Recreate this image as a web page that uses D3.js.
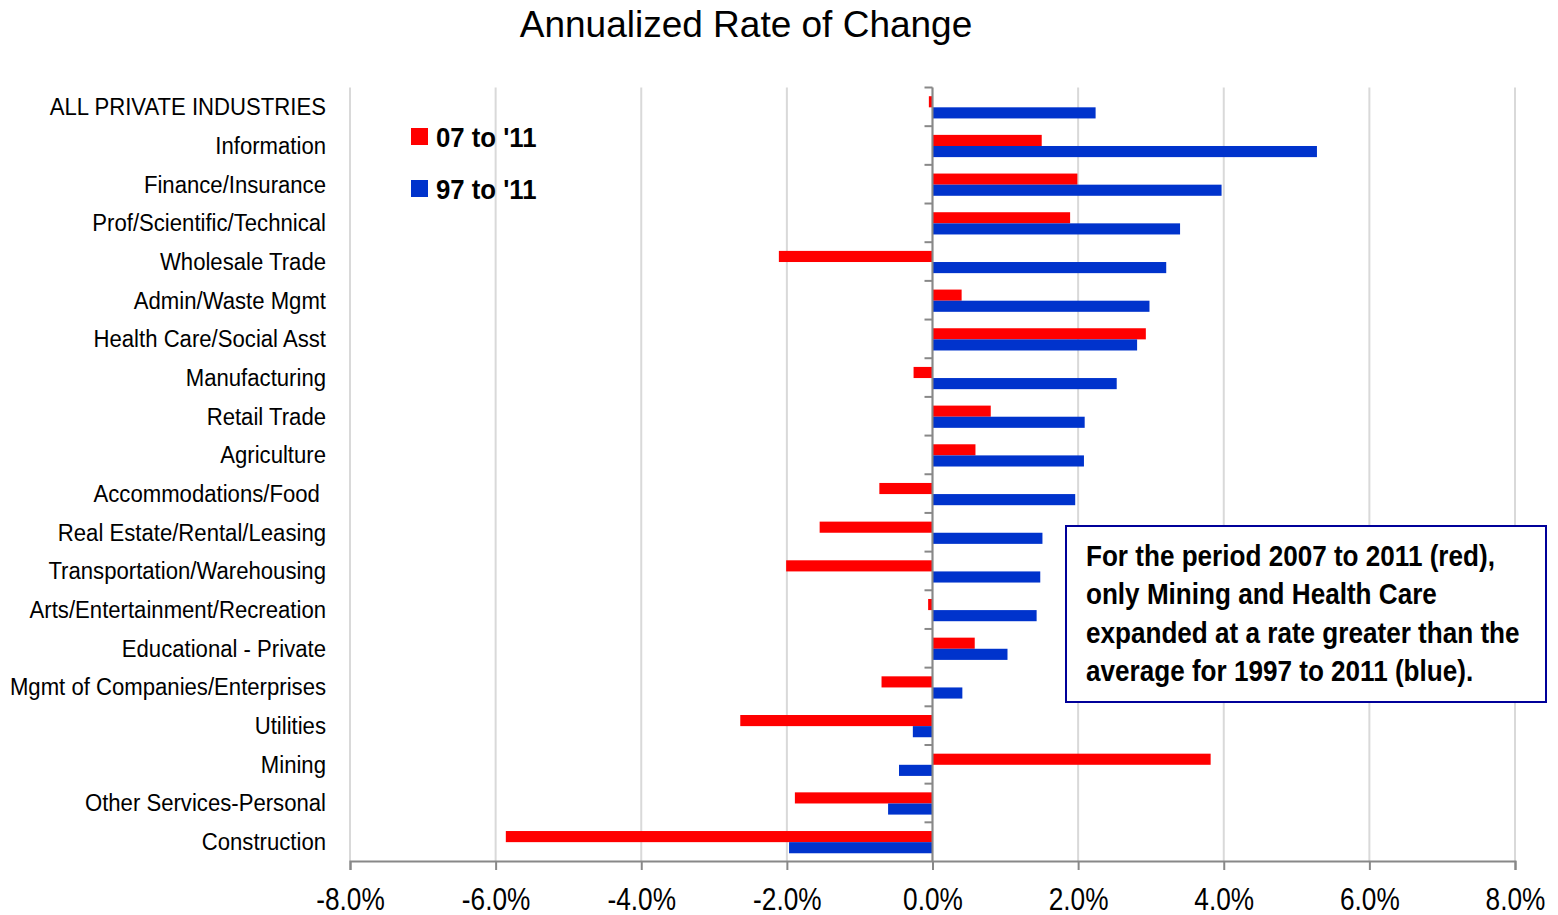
<!DOCTYPE html>
<html>
<head>
<meta charset="utf-8">
<script src="https://cdn.jsdelivr.net/npm/d3@7"></script>
<style>
  body { margin: 0; background: #fff; }
  svg text { font-family: "Liberation Sans", Arial, sans-serif; }
</style>
</head>
<body>
<script>
let svgWidth = 1558;
let svgHeight = 915;

let categories = [
    "ALL PRIVATE INDUSTRIES", "Information", "Finance/Insurance",
    "Prof/Scientific/Technical", "Wholesale Trade", "Admin/Waste Mgmt",
    "Health Care/Social Asst", "Manufacturing", "Retail Trade", "Agriculture",
    "Accommodations/Food ", "Real Estate/Rental/Leasing",
    "Transportation/Warehousing", "Arts/Entertainment/Recreation",
    "Educational - Private", "Mgmt of Companies/Enterprises", "Utilities",
    "Mining", "Other Services-Personal", "Construction"
];

// 2007 to 2011 (red)
let rate0711 = [-0.05, 1.50, 1.99, 1.89, -2.11, 0.40, 2.93, -0.26, 0.80, 0.59,
    -0.73, -1.55, -2.01, -0.06, 0.58, -0.70, -2.64, 3.82, -1.89, -5.86];
// 1997 to 2011 (blue)
let rate9711 = [2.24, 5.28, 3.97, 3.40, 3.21, 2.98, 2.81, 2.53, 2.09, 2.08,
    1.96, 1.51, 1.48, 1.43, 1.03, 0.41, -0.27, -0.46, -0.61, -1.97];

let seriesNames = ["07 to '11", "97 to '11"];
let seriesColors = ["#ff0000", "#0033cc"];
let xTicks = [-8, -6, -4, -2, 0, 2, 4, 6, 8];

let noteLines = [
    "For the period 2007 to 2011 (red),",
    "only Mining and Health Care",
    "expanded at a rate greater than the",
    "average for 1997 to 2011 (blue)."
];

let margin = { top: 87.5, right: 43, bottom: 54, left: 350 };
let chartWidth = svgWidth - margin.left - margin.right;
let chartHeight = svgHeight - margin.top - margin.bottom;

let svg = d3.select("body")
    .append("svg")
    .attr("width", svgWidth)
    .attr("height", svgHeight);

// title
svg.append("text")
    .attr("x", 746)
    .attr("y", 37)
    .attr("text-anchor", "middle")
    .style("font-size", "37px")
    .text("Annualized Rate of Change");

let chartGroup = svg.append("g")
    .attr("transform", `translate(${margin.left}, ${margin.top})`);

let xScale = d3.scaleLinear()
    .domain([-8, 8])
    .range([0, chartWidth]);

let yScale = d3.scaleBand()
    .domain(categories)
    .range([0, chartHeight])
    .padding(0);

let subScale = d3.scaleBand()
    .domain([0, 1])
    .range([yScale.bandwidth() * 0.225, yScale.bandwidth() * 0.8]);

// gridlines
chartGroup.append("g")
    .selectAll("line")
    .data(xTicks)
    .join("line")
    .attr("x1", d => xScale(d))
    .attr("x2", d => xScale(d))
    .attr("y1", 0)
    .attr("y2", chartHeight)
    .attr("stroke", "#d9d9d9")
    .attr("stroke-width", 2);

// bars
let rows = categories.map((c, i) => ({ cat: c, vals: [rate0711[i], rate9711[i]] }));

let rowGroups = chartGroup.append("g")
    .selectAll("g")
    .data(rows)
    .join("g")
    .attr("transform", d => `translate(0, ${yScale(d.cat)})`);

rowGroups.selectAll("rect")
    .data(d => d.vals.map((v, k) => ({ v: v, k: k })))
    .join("rect")
    .attr("x", d => xScale(Math.min(0, d.v)))
    .attr("width", d => Math.abs(xScale(d.v) - xScale(0)))
    .attr("y", d => subScale(d.k))
    .attr("height", subScale.bandwidth())
    .attr("fill", d => seriesColors[d.k]);

// zero axis with category ticks
let zeroAxis = chartGroup.append("g");
zeroAxis.append("line")
    .attr("x1", xScale(0)).attr("x2", xScale(0))
    .attr("y1", 0).attr("y2", chartHeight)
    .attr("stroke", "#888").attr("stroke-width", 2);
zeroAxis.selectAll(".ctick")
    .data(categories)
    .join("line")
    .attr("class", "ctick")
    .attr("x1", xScale(0) - 8).attr("x2", xScale(0))
    .attr("y1", d => yScale(d)).attr("y2", d => yScale(d))
    .attr("stroke", "#888").attr("stroke-width", 2);

// X Axis
let bottomAxis = d3.axisBottom(xScale)
    .tickValues(xTicks)
    .tickFormat(d => d.toFixed(1) + "%")
    .tickSize(9)
    .tickPadding(17);

let xAxisG = chartGroup.append("g")
    .attr("transform", `translate(0, ${chartHeight})`)
    .call(bottomAxis);
xAxisG.select(".domain").attr("stroke", "#888").attr("stroke-width", 2);
xAxisG.selectAll(".tick line").attr("stroke", "#888").attr("stroke-width", 2);
xAxisG.selectAll("text")
    .attr("transform", "scale(0.82,1)")
    .style("font-family", "'Liberation Sans', Arial, sans-serif")
    .style("font-size", "32px")
    .attr("fill", "#000");

// category labels
let leftAxis = d3.axisLeft(yScale).tickSize(0).tickPadding(0);
let yAxisG = chartGroup.append("g")
    .attr("transform", "translate(-24, 1)")
    .call(leftAxis);
yAxisG.select(".domain").remove();
yAxisG.selectAll("text")
    .attr("transform", "scale(0.95,1)")
    .style("font-family", "'Liberation Sans', Arial, sans-serif")
    .style("font-size", "23.3px")
    .style("white-space", "pre")
    .attr("fill", "#000");

// legend
let legend = svg.append("g").attr("transform", "translate(411, 128)");
seriesNames.forEach((name, i) => {
    legend.append("rect")
        .attr("x", 0).attr("y", i * 52)
        .attr("width", 17).attr("height", 17)
        .attr("fill", seriesColors[i]);
    legend.append("g")
        .attr("transform", `translate(25, ${i * 52 + 18.5})`)
        .append("text")
        .attr("transform", "scale(0.92,1)")
        .style("font-size", "28px")
        .style("font-weight", "bold")
        .text(name);
});

// note box
let note = svg.append("g").attr("transform", "translate(1066, 526)");
note.append("rect")
    .attr("width", 480).attr("height", 176)
    .attr("fill", "#fff")
    .attr("stroke", "#000099")
    .attr("stroke-width", 2);
note.selectAll("g.line")
    .data(noteLines)
    .join("g")
    .attr("class", "line")
    .attr("transform", (d, i) => `translate(20, ${40 + i * 38.3})`)
    .append("text")
    .attr("transform", "scale(0.9,1)")
    .style("font-size", "29px")
    .style("font-weight", "bold")
    .text(d => d);
</script>
</body>
</html>
